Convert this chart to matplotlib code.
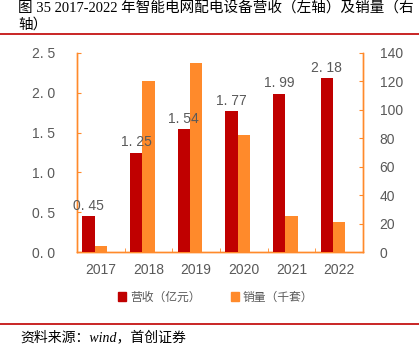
import matplotlib.pyplot as plt
from matplotlib.patches import Patch
from matplotlib.lines import Line2D
from matplotlib.ticker import FixedLocator, FuncFormatter

# data
years = ['2017', '2018', '2019', '2020', '2021', '2022']
revenue = [0.45, 1.25, 1.54, 1.77, 1.99, 2.18]   # 亿元, left axis
sales = [4, 120, 133, 82, 25, 21]                # 千套, right axis

RED = '#C00000'
ORANGE = '#FF8A2B'
GRAY = '#595959'
CJK = ['Liberation Serif', 'Noto Sans CJK SC']

fig = plt.figure(figsize=(4.19, 3.48), dpi=100)

# title and rules
fig.text(18 / 419, 1 - 9 / 348, '图 35 2017-2022 年智能电网配电设备营收（左轴）及销量（右',
         family=CJK, fontsize=10.5, va='center', ha='left', color='black')
fig.text(18 / 419, 1 - 25 / 348, '轴）', family=CJK, fontsize=10.5, va='center', ha='left')
fig.add_artist(Line2D([0, 1], [1 - 34 / 348] * 2, color=RED, lw=1.2))
fig.add_artist(Line2D([0, 1], [1 - 324 / 348] * 2, color=RED, lw=1.2))
fig.text(20 / 419, 1 - 337 / 348, '资料来源：wind，首创证券', family=CJK, style='italic',
         fontsize=10, va='center', ha='left')

ax = fig.add_axes([77 / 419, 1 - 252 / 348, 286 / 419, 199 / 348])
ax2 = ax.twinx()
# keep the left axis (and its labels) on top of the orange bars
ax.set_zorder(ax2.get_zorder() + 1)
ax.patch.set_visible(False)

x = list(range(len(years)))
w = 0.26
ax.bar([i - w for i in x], revenue, width=w, color=RED, zorder=3)
ax2.bar(x, sales, width=w, color=ORANGE, zorder=3)

for i, v in zip(x, revenue):
    ax.text(i - w, v + 0.04, f'{v:.2f}'.replace('.', '. '), ha='center', va='bottom',
            fontsize=10, color=GRAY, family='Liberation Sans', zorder=5)

ax.set_xlim(-0.5, len(years) - 0.5)
ax.set_ylim(0, 2.5)
ax2.set_ylim(0, 140)
ax.set_yticks([0, 0.5, 1.0, 1.5, 2.0, 2.5])
ax.yaxis.set_major_formatter(FuncFormatter(lambda v, p: f'{v:.1f}'.replace('.', '. ')))
ax2.set_yticks(range(0, 141, 20))

ax.set_xticks(x)
ax.set_xticklabels(years)
ax.xaxis.set_minor_locator(FixedLocator([i + 0.5 for i in x[:-1]]))
ax.tick_params(axis='x', which='major', length=0, pad=8, labelsize=10, labelcolor=GRAY)
ax.tick_params(axis='x', which='minor', length=3, direction='in', color=ORANGE)
ax.tick_params(axis='y', direction='in', length=3, color=ORANGE, pad=16,
               labelsize=10, labelcolor=GRAY)
ax2.tick_params(axis='y', direction='in', length=3, color=ORANGE, pad=12,
                labelsize=10, labelcolor=GRAY)
for a in (ax, ax2):
    for lab in a.get_xticklabels() + a.get_yticklabels():
        lab.set_family('Liberation Sans')
    a.spines['top'].set_visible(False)
    for s in ('left', 'right', 'bottom'):
        a.spines[s].set_color(ORANGE)
        a.spines[s].set_linewidth(1.0)

handles = [Patch(color=RED, label='营收（亿元）'), Patch(color=ORANGE, label='销量（千套）')]
leg = fig.legend(handles=handles, loc='center', bbox_to_anchor=(0.515, 1 - 297 / 348),
                 ncol=2, frameon=False, prop={'family': 'Noto Sans CJK SC', 'size': 8.5},
                 handlelength=0.7, handleheight=0.7, handletextpad=0.3, columnspacing=2.6)
for t in leg.get_texts():
    t.set_color(GRAY)

fig.savefig('out.png', dpi=100)
